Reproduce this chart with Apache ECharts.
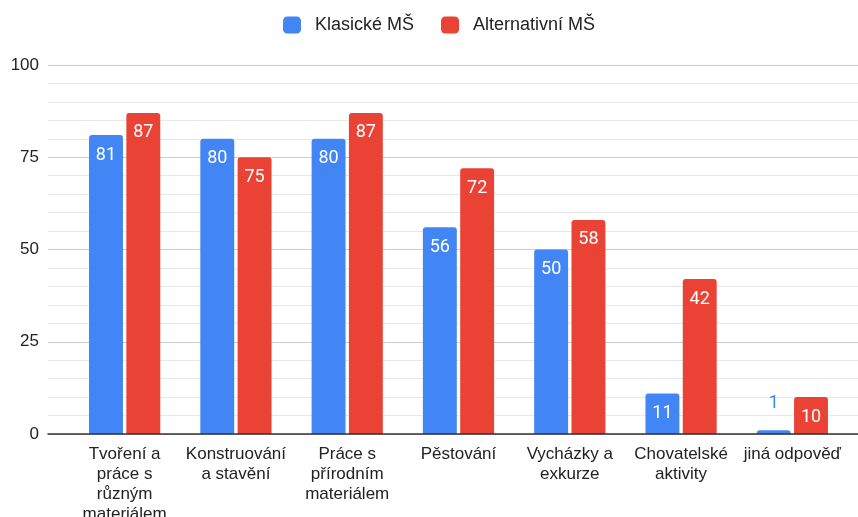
<!DOCTYPE html>
<html><head><meta charset="utf-8">
<script src="https://cdn.jsdelivr.net/npm/echarts@6/dist/echarts.min.js"></script>
<style>html,body{margin:0;padding:0;background:#fff}#c{width:858px;height:517px}</style>
</head><body><div id="c"></div>
<script>
const categories = ["Tvoření a\npráce s\nrůzným\nmateriálem","Konstruování\na stavění","Práce s\npřírodním\nmateriálem","Pěstování","Vycházky a\nexkurze","Chovatelské\naktivity","jiná odpověď"];
const klasicke = [81, 80, 80, 56, 50, 11, 1];
const alternativni = [87, 75, 87, 72, 58, 42, 10];
const yTicks = [0, 25, 50, 75, 100];
const seriesNames = ["Klasické MŠ", "Alternativní MŠ"];
const colors = ["#4285F4", "#EA4335"];

function labelled(vals, color) {
  return vals.map(v => v < 5 ? {value: v, label: {position: 'top', color: color, distance: 18}} : v);
}

const FONT = 'Liberation Sans, Arial, sans-serif';
const chart = echarts.init(document.getElementById('c'), null, {renderer: 'canvas'});
const gTop = 65, gBottom = 83;
chart.setOption({
  animation: false,
  textStyle: {fontFamily: FONT},
  legend: {
    top: 11, left: 278, itemWidth: 18, itemHeight: 17, itemGap: 27,
    icon: 'roundRect',
    textStyle: {fontSize: 18, color: '#222', fontFamily: FONT, padding: [0, 0, 0, 9]},
    data: seriesNames
  },
  grid: [
    {left: 48, right: 0, top: gTop, bottom: gBottom, containLabel: false, outerBoundsMode: 'none'},
    {left: 69, right: 10, top: gTop, bottom: gBottom, containLabel: false, outerBoundsMode: 'none'}
  ],
  xAxis: [
    {gridIndex: 0, type: 'category', data: [''], axisLine: {lineStyle: {color: '#333', width: 1.5}}, axisTick: {show: false}, axisLabel: {show: false}, z: 5},
    {gridIndex: 1, type: 'category', data: categories, axisLine: {show: false}, axisTick: {show: false},
     axisLabel: {margin: 10, fontSize: 17, lineHeight: 20, color: '#222', interval: 0, fontFamily: FONT}}
  ],
  yAxis: [
    {gridIndex: 0, type: 'value', min: yTicks[0], max: yTicks[yTicks.length-1], interval: 25,
     axisLine: {show: false}, axisTick: {show: false},
     axisLabel: {margin: 9, fontSize: 17, color: '#222'},
     splitLine: {lineStyle: {color: '#cccccc', width: 1}},
     minorTick: {show: false, splitNumber: 5},
     minorSplitLine: {show: true, lineStyle: {color: '#e8e8e8', width: 1}}},
    {gridIndex: 1, type: 'value', min: 0, max: 100, interval: 25, show: false, splitLine: {show: false}}
  ],
  series: [
    {name: seriesNames[0], type: 'bar', xAxisIndex: 1, yAxisIndex: 1, data: labelled(klasicke, colors[0]),
     itemStyle: {color: colors[0], borderRadius: [3,3,0,0]}, barGap: '10%', barCategoryGap: '36%',
     label: {show: true, position: 'insideTop', distance: 11, color: '#fff', fontSize: 18, fontFamily: 'Roboto, sans-serif'}},
    {name: seriesNames[1], type: 'bar', xAxisIndex: 1, yAxisIndex: 1, data: labelled(alternativni, colors[1]),
     itemStyle: {color: colors[1], borderRadius: [3,3,0,0]}, barGap: '10%', barCategoryGap: '36%',
     label: {show: true, position: 'insideTop', distance: 11, color: '#fff', fontSize: 18, fontFamily: 'Roboto, sans-serif'}}
  ]
});
</script></body></html>
